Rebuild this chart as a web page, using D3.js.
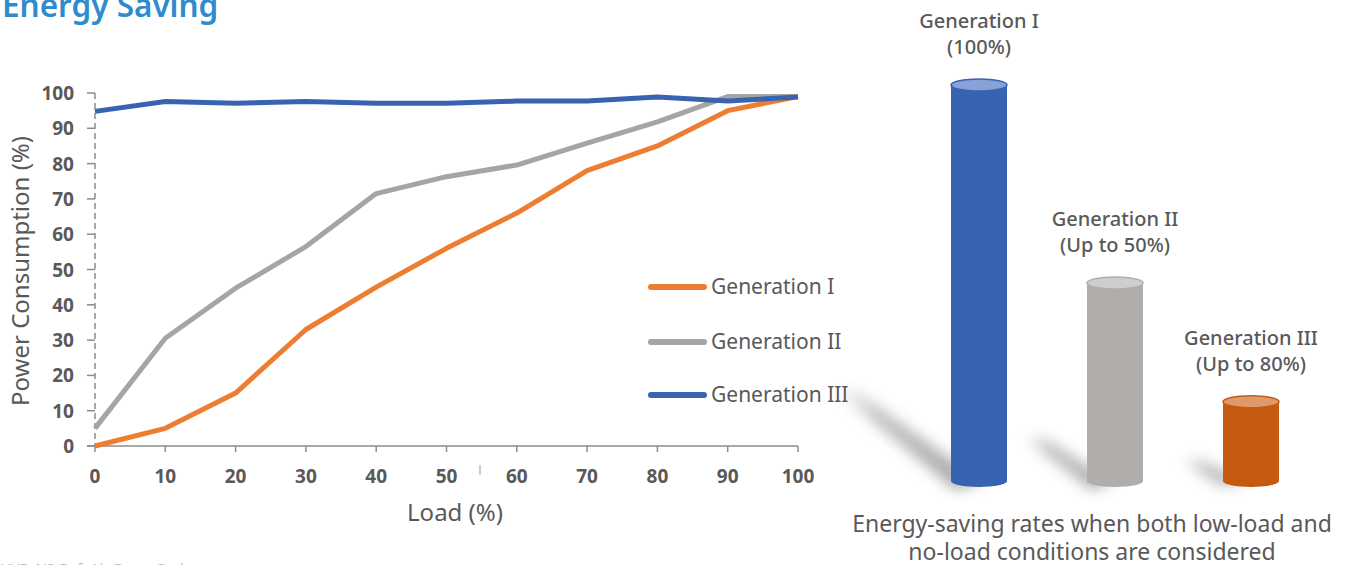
<!doctype html>
<html>
<head>
<meta charset="utf-8"/>
<title>Energy Saving</title>
<script src="https://d3js.org/d3.v7.min.js"></script>
<style>
  body { margin: 0; background: #fff; }
  text { font-family: "Noto Sans", "Open Sans", sans-serif; }
</style>
</head>
<body>
<script>
// ---- data ----
var loads = [0, 10, 20, 30, 40, 50, 60, 70, 80, 90, 100];
var gen1 = [0, 5, 15, 33, 45, 56, 66, 78, 85, 95, 99];
var gen2 = [5, 30.5, 44.7, 56.5, 71.5, 76.3, 79.6, 85.8, 91.8, 99, 99];
var gen3 = [94.8, 97.6, 97.1, 97.6, 97.1, 97.1, 97.7, 97.7, 98.9, 97.7, 98.9];
var seriesNames = ["Generation I", "Generation II", "Generation III"];
var lineColors = ["#ed7d31", "#a5a5a5", "#3763b0"];
var yTicks = [0, 10, 20, 30, 40, 50, 60, 70, 80, 90, 100];

// cylinders: relative consumption (Gen I = 100)
var cylNames = ["Generation I", "Generation II", "Generation III"];
var cylSub = ["(100%)", "(Up to 50%)", "(Up to 80%)"];
var cylValues = [100, 50, 20];
var cylColors = ["#3863b0", "#b0adab", "#c55a11"];
var cylTops = ["#86a2d6", "#d0cecd", "#de9a6d"];

var W = 1350, H = 565;
var svg = d3.select("body").append("svg")
  .attr("width", W).attr("height", H);

var defs = svg.append("defs");
defs.append("filter").attr("id", "blur")
  .attr("x", "-50%").attr("y", "-50%").attr("width", "200%").attr("height", "200%")
  .append("feGaussianBlur").attr("stdDeviation", 7);

var grad = defs.append("linearGradient").attr("id", "shade")
  .attr("x1", "0").attr("y1", "0").attr("x2", "1").attr("y2", "0");
grad.append("stop").attr("offset", "0").attr("stop-color", "#bbb").attr("stop-opacity", 0);
grad.append("stop").attr("offset", "0.3").attr("stop-color", "#aaa").attr("stop-opacity", 0.8);
grad.append("stop").attr("offset", "1").attr("stop-color", "#999").attr("stop-opacity", 1);

// title
svg.append("text").attr("x", 2).attr("y", 17)
  .attr("fill", "#2e8bcc").attr("font-size", 31.5).attr("font-weight", 600)
  .text("Energy Saving");

// footer
svg.append("text").attr("x", 0).attr("y", 574)
  .attr("fill", "#bbb").attr("font-size", 15)
  .text("HYD-N2 Ref. Air Dryer Series");

// ---- line chart ----
var x = d3.scaleLinear().domain([0, 100]).range([95, 798]);
var y = d3.scaleLinear().domain([0, 100]).range([446, 93]);

var g = svg.append("g");

// y axis dashed line
g.append("line").attr("x1", x(0)).attr("x2", x(0))
  .attr("y1", y(100)).attr("y2", y(0))
  .attr("stroke", "#8c8c8c").attr("stroke-width", 1.5)
  .attr("stroke-dasharray", "6,4");

g.selectAll(".ytick").data(yTicks).enter().append("line")
  .attr("x1", x(0) - 8).attr("x2", x(0))
  .attr("y1", d => y(d)).attr("y2", d => y(d))
  .attr("stroke", "#8c8c8c").attr("stroke-width", 1.5);

g.selectAll(".ylab").data(yTicks).enter().append("text")
  .attr("x", 74).attr("y", d => y(d) + 7)
  .attr("text-anchor", "end").attr("font-size", 19).attr("font-weight", 700)
  .attr("fill", "#595959").text(d => d);

// x axis
g.append("line").attr("x1", x(0) - 8).attr("x2", x(100))
  .attr("y1", y(0)).attr("y2", y(0))
  .attr("stroke", "#8c8c8c").attr("stroke-width", 1.5);

g.selectAll(".xtick").data(loads).enter().append("line")
  .attr("x1", d => x(d)).attr("x2", d => x(d))
  .attr("y1", y(0)).attr("y2", y(0) + 6)
  .attr("stroke", "#8c8c8c").attr("stroke-width", 1.5);

g.selectAll(".xlab").data(loads).enter().append("text")
  .attr("x", d => x(d)).attr("y", 483)
  .attr("text-anchor", "middle").attr("font-size", 19).attr("font-weight", 700)
  .attr("fill", "#595959").text(d => d);

// stray mark under axis
g.append("line").attr("x1", 480).attr("x2", 480).attr("y1", 465).attr("y2", 475)
  .attr("stroke", "#999").attr("stroke-width", 1);

// axis titles
svg.append("text")
  .attr("transform", "translate(29," + 271 + ") rotate(-90)")
  .attr("text-anchor", "middle").attr("font-size", 24).attr("fill", "#595959")
  .text("Power Consumption (%)");

svg.append("text").attr("x", 455).attr("y", 521)
  .attr("text-anchor", "middle").attr("font-size", 24).attr("fill", "#595959")
  .text("Load (%)");

// lines
var line = d3.line().x((d, i) => x(loads[i])).y(d => y(d));
[gen1, gen2, gen3].forEach(function (s, i) {
  g.append("path").datum(s)
    .attr("d", line).attr("fill", "none")
    .attr("stroke", lineColors[i]).attr("stroke-width", 5)
    .attr("stroke-linejoin", "round");
});

// shadows
var shadows = [
  [[832, 388], [860, 393], [982, 482], [955, 490]],
  [[1020, 436], [1045, 438], [1112, 482], [1092, 490]],
  [[1180, 460], [1200, 460], [1245, 480], [1222, 486]]
];
svg.append("g").selectAll("polygon").data(shadows).enter().append("polygon")
  .attr("points", d => d.map(p => p.join(",")).join(" "))
  .attr("fill", "url(#shade)").attr("filter", "url(#blur)").attr("opacity", 0.9);

// legend
var legY = [287, 342, 395];
seriesNames.forEach(function (n, i) {
  svg.append("line").attr("x1", 651).attr("x2", 704)
    .attr("y1", legY[i]).attr("y2", legY[i])
    .attr("stroke", lineColors[i]).attr("stroke-width", 6).attr("stroke-linecap", "round");
  svg.append("text").attr("x", 711).attr("y", legY[i] + 7)
    .attr("font-size", 21).attr("fill", "#595959").text(n);
});

// ---- cylinders ----
var cx = d3.scalePoint().domain(cylNames).range([979, 1251]);
var cy = d3.scaleLinear().domain([0, 100]).range([481, 85]);
var rx = 28, ry = 6;

var cyl = svg.append("g").selectAll("g").data(cylNames).enter().append("g");
cyl.each(function (n, i) {
  var gg = d3.select(this);
  var xc = cx(n);
  var yt = cy(cylValues[i]), yb = cy(0);
  gg.append("path")
    .attr("d", "M" + (xc - rx) + "," + yt + " L" + (xc - rx) + "," + yb +
      " A" + rx + "," + ry + " 0 0 0 " + (xc + rx) + "," + yb +
      " L" + (xc + rx) + "," + yt + " Z")
    .attr("fill", cylColors[i]);
  gg.append("ellipse").attr("cx", xc).attr("cy", yt).attr("rx", rx).attr("ry", ry)
    .attr("fill", cylTops[i]).attr("stroke", cylColors[i]).attr("stroke-width", 1.5);
  gg.append("text").attr("x", xc).attr("y", yt - 57)
    .attr("text-anchor", "middle").attr("font-size", 20).attr("font-weight", 500)
    .attr("fill", "#595959").text(n);
  gg.append("text").attr("x", xc).attr("y", yt - 31)
    .attr("text-anchor", "middle").attr("font-size", 20).attr("font-weight", 500)
    .attr("fill", "#595959").text(cylSub[i]);
});

// caption
var cap = ["Energy-saving rates when both low-load and", "no-load conditions are considered"];
svg.selectAll(".cap").data(cap).enter().append("text")
  .attr("x", 1092).attr("y", (d, i) => 532 + i * 27.5)
  .attr("text-anchor", "middle").attr("font-size", 23).attr("fill", "#595959")
  .text(d => d);
</script>
</body>
</html>
